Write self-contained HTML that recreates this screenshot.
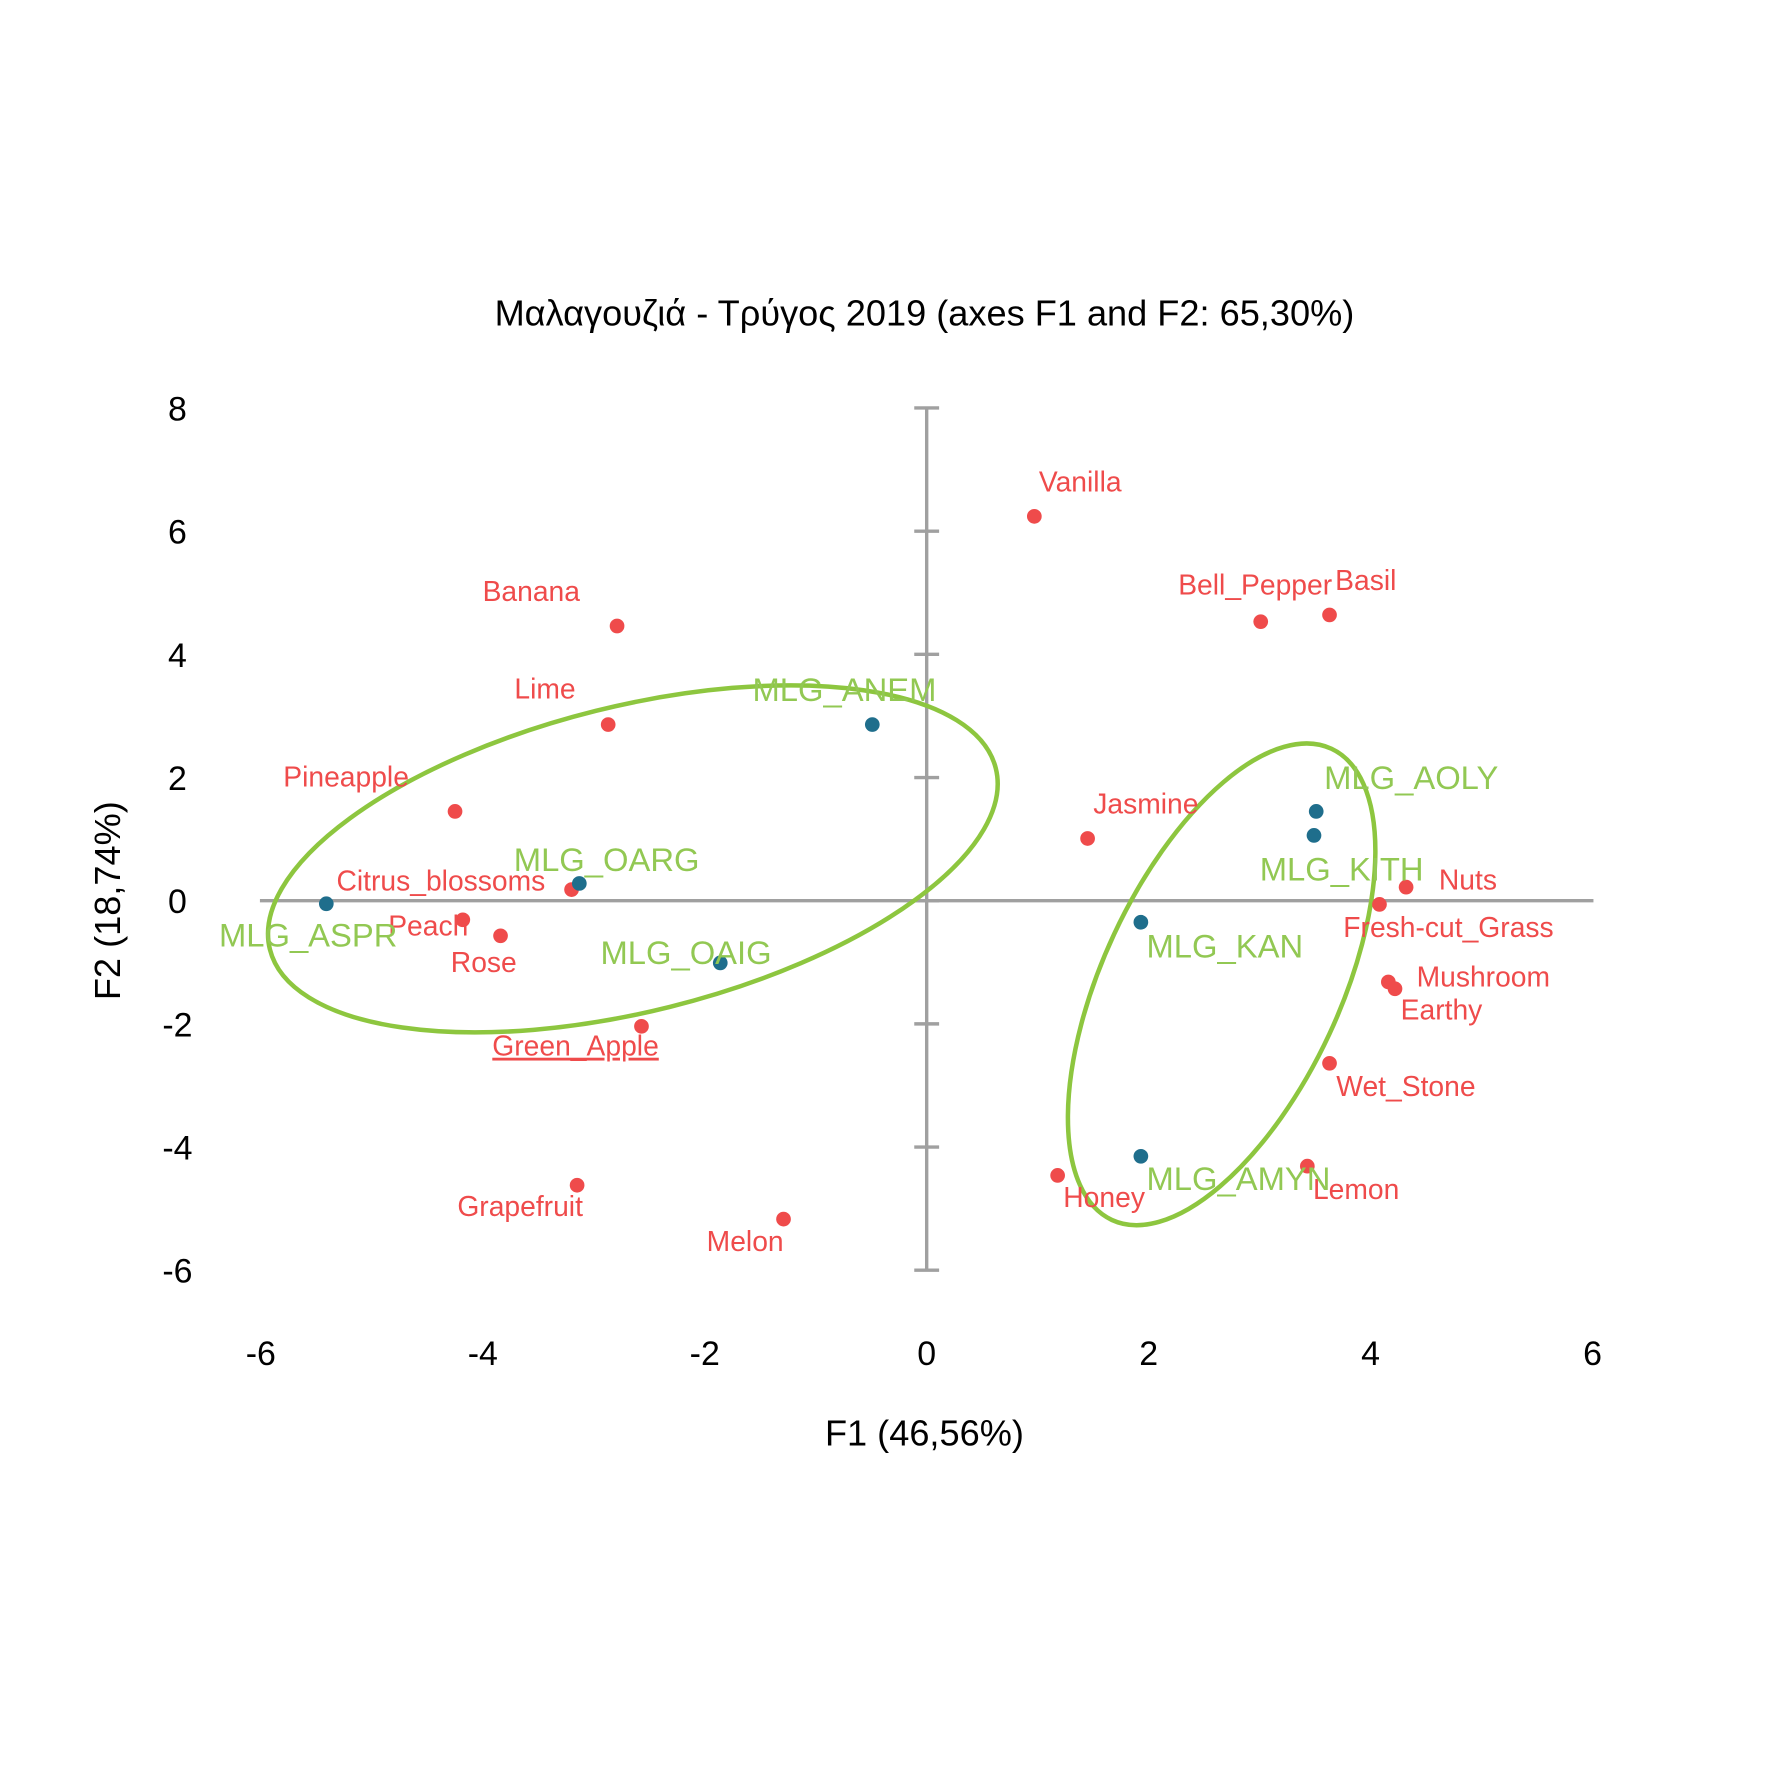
<!DOCTYPE html>
<html><head><meta charset="utf-8"><style>
html,body{margin:0;padding:0;background:#fff}
svg{display:block}
text{font-family:"Liberation Sans","DejaVu Sans",sans-serif}
</style></head><body>
<svg id="chart" width="1772" height="1772" viewBox="0 0 1568 1568" xmlns="http://www.w3.org/2000/svg">
<rect width="1568" height="1568" fill="#fff"/>
<text x="818" y="288" font-size="32" text-anchor="middle" fill="#000">Μαλαγουζιά - Τρύγος 2019 (axes F1 and F2: 65,30%)</text>
<text x="818" y="1279" font-size="32" text-anchor="middle" fill="#000">F1 (46,56%)</text>
<text transform="translate(106,797) rotate(-90)" font-size="32" text-anchor="middle" fill="#000">F2 (18,74%)</text>
<g id="axes"></g>
<g id="ellipses"></g>
<g id="marks"></g>
</svg>
<script>
const xTicks = [-6, -4, -2, 0, 2, 4, 6];
const yTicks = [8, 6, 4, 2, 0, -2, -4, -6];
const obsNames = ["MLG_ASPR","MLG_OARG","MLG_OAIG","MLG_ANEM","MLG_AOLY","MLG_KITH","MLG_KAN","MLG_AMYN"];
const obsF1 = [-5.41,-3.13,-1.86,-0.49,3.51,3.49,1.93,1.93];
const obsF2 = [-0.05,0.28,-1.01,2.86,1.45,1.06,-0.35,-4.15];
const varNames = ["Vanilla","Bell_Pepper","Basil","Banana","Lime","Pineapple","Jasmine","Citrus_blossoms","Peach","Rose","Nuts","Fresh-cut_Grass","Mushroom","Earthy","Green_Apple","Wet_Stone","Lemon","Honey","Grapefruit","Melon"];
const varF1 = [0.97,3.01,3.63,-2.79,-2.87,-4.25,1.45,-3.20,-4.18,-3.84,4.32,4.08,4.16,4.22,-2.57,3.63,3.43,1.18,-3.15,-1.29];
const varF2 = [6.24,4.53,4.64,4.46,2.86,1.45,1.01,0.18,-0.31,-0.57,0.22,-0.06,-1.32,-1.43,-2.04,-2.64,-4.31,-4.46,-4.62,-5.17];

// label offsets (layout only)
const obsDx=[-95,-58,-106,-106,7,-48,5,5], obsDy=[27,-22,-10,-32,-31,29,20,19];
const varDx=[4,-73,5,-119,-83,-152,5,-208,-66,-44,29,-32,25,5,-132,6,5,5,-106,-68];
const varDy=[-31,-33,-31,-31,-32,-31,-31,-8,5,23,-7,20,-5,18,17,20,20,19,18,19];

const X0=820, XS=98.2, Y0=797, YS=54.5;
const sx=v=>X0+v*XS, sy=v=>Y0-v*YS;
const NS="http://www.w3.org/2000/svg";
function mk(tag,attrs,parent,txt){const e=document.createElementNS(NS,tag);for(const k in attrs)e.setAttribute(k,attrs[k]);if(txt!==undefined)e.textContent=txt;parent.appendChild(e);return e;}
const axes=document.getElementById('axes');
let e;
e=mk('line',{x1:230,y1:sy(0),x2:1410,y2:sy(0),stroke:'#a0a0a0','stroke-width':3},axes);


e=mk('line',{x1:sx(0),y1:sy(8),x2:sx(0),y2:sy(-6),stroke:'#a0a0a0','stroke-width':3},axes);


yTicks.forEach(t=>{
  const m=mk('line',{x1:sx(0)-11,x2:sx(0)+11,y1:sy(t),y2:sy(t),stroke:'#a0a0a0','stroke-width':3},axes);
  
  
  const l=mk('text',{x:157,y:sy(t)+11,'font-size':30,'text-anchor':'middle',fill:'#000'},axes,String(t));
  
  
});
xTicks.forEach(t=>{
  const l=mk('text',{x:sx(t),y:1208,'font-size':30,'text-anchor':'middle',fill:'#000'},axes,String(t));
  
  
});
const ell=document.getElementById('ellipses');
e=mk('ellipse',{cx:560,cy:760,rx:331,ry:135,transform:'rotate(-14 560 760)',fill:'none',stroke:'#8dc63f','stroke-width':4},ell);


e=mk('ellipse',{cx:1081,cy:871,rx:230,ry:105,transform:'rotate(-65 1081 871)',fill:'none',stroke:'#8dc63f','stroke-width':4},ell);



const marks=document.getElementById('marks');
varNames.forEach((n,i)=>{
  const c=mk('circle',{cx:sx(varF1[i]),cy:sy(varF2[i]),r:6.5,fill:'#ef4b4b'},marks);
  
  
  const attrs={x:sx(varF1[i])+varDx[i],y:sy(varF2[i])+varDy[i]+9,'font-size':25,fill:'#ef4b4b'};
  if(n==='Green_Apple')attrs['text-decoration']='underline';
  const t=mk('text',attrs,marks,n);
  
  
});
obsNames.forEach((n,i)=>{
  const c=mk('circle',{cx:sx(obsF1[i]),cy:sy(obsF2[i]),r:6.5,fill:'#1f6e8c'},marks);
  
  
  const t=mk('text',{x:sx(obsF1[i])+obsDx[i],y:sy(obsF2[i])+obsDy[i]+11,'font-size':29,fill:'#92c853'},marks,n);
  
  
});
</script>
</body></html>
